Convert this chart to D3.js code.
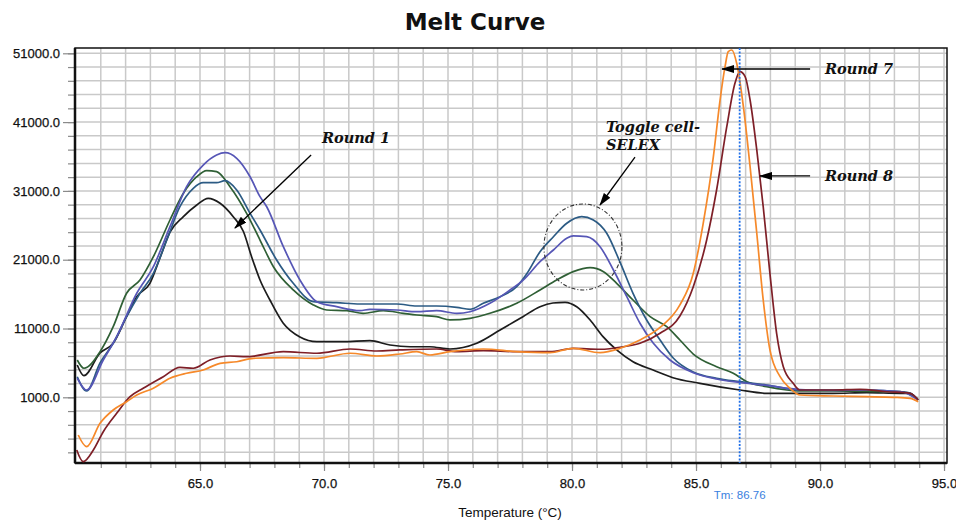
<!DOCTYPE html>
<html>
<head>
<meta charset="utf-8">
<script src="https://cdn.jsdelivr.net/npm/d3@7"></script>
<style>
  body { margin: 0; background: #fff; }
  svg { display: block; font-family: "Liberation Sans", Arial, sans-serif; }
</style>
</head>
<body>
<div id="okvir"></div>
<script>
// ---- data ----
const xLabels = [65, 70, 75, 80, 85, 90, 95]
const yLabels = [1000, 11000, 21000, 31000, 41000, 51000]
const tm = 86.76

const round1Temp = [60.05, 60.32, 60.97, 61.5, 62.04, 62.45, 62.98, 63.39, 63.79, 64.33, 64.87, 65.33, 65.81, 66.34, 66.75, 67.08, 67.42, 67.82, 68.35, 69.03, 69.71, 70.77, 71.85, 72.66, 73.47, 74.27, 75.08, 76.16, 77.1, 78.02, 78.71, 79.23, 79.72, 80.19, 80.73, 81.25, 81.8, 82.46, 83.27, 84.07, 85.16, 86.77, 87.85, 89.19, 90.52, 91.88, 93.23, 93.63, 93.95]
const round1Val = [5700, 4140, 7440, 8850, 12720, 15620, 17570, 21300, 25000, 27250, 28950, 29920, 29200, 27250, 25100, 21440, 18050, 15140, 11800, 9760, 9080, 9080, 9230, 8600, 8350, 8350, 8020, 8850, 10780, 12720, 14170, 14710, 14810, 14170, 12240, 9810, 7880, 6170, 4970, 3850, 3030, 2060, 1580, 1580, 1580, 1670, 1580, 1580, 610]

const greenTemp = [60.05, 60.32, 60.97, 61.5, 62.04, 62.58, 63.12, 63.79, 64.33, 64.87, 65.27, 65.67, 66.21, 66.88, 67.42, 67.96, 68.76, 69.57, 70.11, 70.92, 71.58, 72.39, 73.2, 73.74, 74.54, 75.08, 75.89, 76.69, 77.77, 78.71, 79.38, 80.05, 80.73, 81.27, 81.8, 82.46, 83.15, 83.82, 84.35, 84.89, 85.83, 86.5, 87.05, 87.85, 88.66, 89.19, 90.52, 91.88, 93.23, 93.95]
const greenVal = [6420, 5220, 7630, 11260, 16120, 18050, 21440, 26770, 30650, 33060, 33940, 33790, 31610, 27740, 23860, 19980, 16600, 14420, 13690, 13590, 13210, 13590, 13210, 12960, 12720, 12240, 12480, 13210, 14660, 16600, 18050, 19260, 19840, 19260, 17570, 15140, 12720, 11260, 9330, 7290, 5450, 4490, 3270, 2540, 2060, 1920, 1920, 1840, 1810, 750]

const steelTemp = [60.05, 60.43, 60.97, 61.5, 62.04, 62.58, 63.12, 63.66, 64.19, 64.73, 65.13, 65.67, 66.01, 66.48, 67.02, 67.42, 68.09, 68.76, 69.57, 70.51, 71.45, 72.39, 72.93, 73.74, 74.54, 75.35, 75.89, 76.42, 77.1, 77.77, 78.17, 78.71, 79.25, 79.79, 80.39, 80.86, 81.4, 81.94, 82.46, 83.01, 83.55, 84.08, 84.89, 85.83, 86.77, 87.85, 89.19, 90.52, 91.88, 93.23, 93.63, 93.95]
const steelVal = [3990, 1920, 5990, 8850, 12720, 16120, 19020, 23860, 28700, 31380, 32190, 32190, 32480, 31130, 27740, 25320, 20960, 17570, 14900, 14750, 14560, 14560, 14560, 14270, 14270, 14080, 13790, 14660, 15620, 17080, 18920, 22160, 24340, 26290, 27250, 26770, 24840, 20600, 16120, 12240, 9330, 6710, 4680, 3760, 3270, 2790, 2060, 2060, 2060, 1810, 1630, 610]

const purpleTemp = [60.05, 60.43, 61.1, 61.64, 62.45, 63.12, 63.79, 64.46, 65.13, 65.67, 66.01, 66.48, 67.02, 67.42, 67.69, 68.36, 69.03, 69.71, 70.51, 71.45, 71.85, 72.93, 73.74, 74.54, 75.35, 75.89, 76.69, 77.5, 78.04, 78.71, 79.25, 79.79, 80.05, 80.59, 81.13, 81.67, 82.21, 82.74, 83.28, 83.95, 84.89, 85.83, 86.77, 87.85, 89.19, 90.52, 91.88, 93.23, 93.95]
const purpleVal = [3800, 2060, 6420, 9810, 16120, 19980, 25800, 31610, 34760, 36220, 36550, 35740, 33060, 30160, 28700, 22890, 18050, 14900, 14170, 13590, 13790, 13690, 13440, 13590, 13210, 13440, 14660, 16600, 18050, 20710, 22410, 24110, 24450, 24340, 22890, 19500, 15620, 11760, 8850, 6420, 4580, 3660, 3150, 2720, 2130, 1990, 2060, 1840, 610]

const round7Temp = [60.09, 60.43, 60.97, 61.5, 62.04, 62.45, 63.12, 63.79, 64.46, 65.13, 65.81, 66.48, 67.15, 68.36, 69.71, 71.05, 72.13, 73.06, 73.74, 74.27, 75.08, 76.42, 77.77, 79.11, 80.05, 81.13, 81.94, 82.74, 83.55, 84.35, 84.89, 85.29, 85.7, 85.97, 86.17, 86.3, 86.44, 86.64, 86.91, 87.18, 87.45, 87.71, 87.98, 88.39, 88.79, 89.19, 90.54, 91.88, 92.95, 93.63, 93.96]
const round7Val = [-4480, -6180, -2780, -850, 360, 1330, 2310, 3760, 4490, 4970, 5940, 6170, 6670, 6760, 6670, 7400, 7000, 7290, 7630, 7150, 7630, 8020, 7630, 7480, 8120, 7480, 8120, 9330, 11150, 14420, 19020, 26290, 35970, 44210, 49050, 51230, 51480, 49550, 43240, 34520, 24840, 15140, 7880, 3990, 2310, 1330, 1190, 1090, 1000, 850, 360]

const round8Temp = [60.03, 60.29, 60.7, 61.1, 61.64, 62.18, 62.71, 63.52, 64.19, 64.73, 65.4, 66.21, 66.88, 68.36, 69.71, 71.05, 72.13, 73.06, 74.54, 75.35, 76.42, 77.77, 79.11, 80.05, 81.13, 82.07, 82.74, 83.55, 84.35, 84.89, 85.43, 85.83, 86.24, 86.57, 86.77, 86.98, 87.18, 87.45, 87.71, 87.98, 88.25, 88.52, 88.92, 89.19, 90.54, 91.61, 92.69, 93.63, 93.96]
const round8Val = [-6660, -8360, -6660, -4000, -1330, 1090, 2310, 3990, 5360, 5220, 6420, 7000, 6900, 7630, 7400, 8020, 7730, 7880, 8020, 7630, 7770, 7630, 7630, 8120, 7980, 8350, 8850, 10300, 12810, 17080, 23860, 31130, 40330, 46640, 48330, 47600, 44210, 36950, 28700, 19020, 10300, 5450, 3030, 2060, 2060, 2160, 1810, 1580, 610]

const serije = [
  { temp: round1Temp, val: round1Val, boja: "#1c1c1c" },
  { temp: greenTemp, val: greenVal, boja: "#2f5f35" },
  { temp: steelTemp, val: steelVal, boja: "#2c5b84" },
  { temp: purpleTemp, val: purpleVal, boja: "#5656b6" },
  { temp: round8Temp, val: round8Val, boja: "#7e1f27" },
  { temp: round7Temp, val: round7Val, boja: "#f6892a" },
]

// ---- layout ----
const dimenzije = {
  sirina: 956,
  visina: 520,
  margine: { top: 48, right: 9, bottom: 57, left: 75 },
}
dimenzije.grSirina = dimenzije.sirina - dimenzije.margine.left - dimenzije.margine.right
dimenzije.grVisina = dimenzije.visina - dimenzije.margine.top - dimenzije.margine.bottom

const xSkala = d3.scaleLinear().domain([59.96, 95.12]).range([0, dimenzije.grSirina])
const ySkala = d3.scaleLinear().domain([-8550, 51770]).range([dimenzije.grVisina, 0])

const okvir = d3.select("#okvir").append("svg")
  .attr("width", dimenzije.sirina)
  .attr("height", dimenzije.visina)

okvir.append("text")
  .attr("x", 475).attr("y", 30)
  .attr("text-anchor", "middle")
  .style("font-family", "'DejaVu Sans', sans-serif")
  .style("font-weight", "bold")
  .style("font-size", "23px")
  .attr("fill", "#111")
  .text("Melt Curve")

const granice = okvir.append("g")
  .attr("transform", `translate(${dimenzije.margine.left},${dimenzije.margine.top})`)

// grid
const xMinor = d3.range(61, 96)
const yMinor = d3.range(-7000, 51001, 2000)

granice.append("g").selectAll("line").data(xMinor).join("line")
  .attr("x1", d => xSkala(d)).attr("x2", d => xSkala(d))
  .attr("y1", 0).attr("y2", dimenzije.grVisina)
  .attr("stroke", "#c9c9c9").attr("stroke-width", 1.5)

granice.append("g").selectAll("line").data(yMinor).join("line")
  .attr("x1", 0).attr("x2", dimenzije.grSirina)
  .attr("y1", d => ySkala(d)).attr("y2", d => ySkala(d))
  .attr("stroke", "#c9c9c9").attr("stroke-width", 1.5)

// axes
const fmt = d3.format(".1f")

const yMinorAxis = granice.append("g")
  .call(d3.axisLeft(ySkala).tickValues(yMinor).tickSize(7).tickFormat(""))
const yAxis = granice.append("g")
  .call(d3.axisLeft(ySkala).tickValues(yLabels).tickSize(12).tickPadding(3).tickFormat(fmt))

const xMinorAxis = granice.append("g")
  .attr("transform", `translate(0,${dimenzije.grVisina})`)
  .call(d3.axisBottom(xSkala).tickValues(xMinor).tickSize(5).tickFormat(""))
const xAxis = granice.append("g")
  .attr("transform", `translate(0,${dimenzije.grVisina})`)
  .call(d3.axisBottom(xSkala).tickValues(xLabels).tickSize(8).tickPadding(8).tickFormat(fmt))

;[yMinorAxis, yAxis, xMinorAxis, xAxis].forEach(a => {
  a.select(".domain").remove()
  a.selectAll(".tick line").attr("stroke", "#8a8a8a").attr("stroke-width", 1.2)
  a.selectAll(".tick text")
    .attr("fill", "#111")
    .attr("stroke", "#111").attr("stroke-width", 0.25)
    .style("font-size", "13px")
    .style("font-family", "'Liberation Sans', Arial, sans-serif")
})

// frame
granice.append("rect")
  .attr("width", dimenzije.grSirina).attr("height", dimenzije.grVisina)
  .attr("fill", "none").attr("stroke", "#111").attr("stroke-width", 1.5)
granice.append("line")
  .attr("x1", 0).attr("x2", 0).attr("y1", 0).attr("y2", dimenzije.grVisina)
  .attr("stroke", "#111").attr("stroke-width", 2.5)
granice.append("line")
  .attr("x1", 0).attr("x2", dimenzije.grSirina).attr("y1", dimenzije.grVisina).attr("y2", dimenzije.grVisina)
  .attr("stroke", "#111").attr("stroke-width", 2.5)

// curves
const linija = d3.line()
  .x(d => xSkala(d[0]))
  .y(d => ySkala(d[1]))
  .curve(d3.curveMonotoneX)

granice.append("g").selectAll("path").data(serije).join("path")
  .attr("d", s => linija(d3.zip(s.temp, s.val)))
  .attr("fill", "none")
  .attr("stroke", s => s.boja)
  .attr("stroke-width", 1.7)
  .attr("stroke-linejoin", "round")

// Tm marker
granice.append("line")
  .attr("x1", xSkala(tm)).attr("x2", xSkala(tm))
  .attr("y1", 0).attr("y2", dimenzije.grVisina)
  .attr("stroke", "#1f6fe8").attr("stroke-width", 1.8)
  .attr("stroke-dasharray", "2,1.6")

granice.append("text")
  .attr("x", xSkala(tm)).attr("y", dimenzije.grVisina + 36)
  .attr("text-anchor", "middle")
  .attr("fill", "#3a7fe0")
  .style("font-size", "11.5px")
  .text(`Tm: ${tm}`)

okvir.append("text")
  .attr("x", 510).attr("y", 517)
  .attr("text-anchor", "middle")
  .attr("fill", "#111")
  .style("font-size", "13.5px")
  .text("Temperature (°C)")

// annotations
const defs = okvir.append("defs")
defs.append("marker")
  .attr("id", "strelica")
  .attr("viewBox", "0 0 13 8")
  .attr("markerUnits", "userSpaceOnUse")
  .attr("markerWidth", 13).attr("markerHeight", 8)
  .attr("refX", 12).attr("refY", 4)
  .attr("orient", "auto")
  .append("path").attr("d", "M0,0L13,4L0,8Z").attr("fill", "#000")

const strelice = [
  { od: [69.48, 36220], do: [66.41, 25610] },
  { od: [82.54, 35920], do: [81.13, 28950] },
  { od: [89.6, 48720], do: [86.05, 48720] },
  { od: [89.6, 33170], do: [87.58, 33170] },
]

granice.append("g").selectAll("line").data(strelice).join("line")
  .attr("x1", d => xSkala(d.od[0])).attr("y1", d => ySkala(d.od[1]))
  .attr("x2", d => xSkala(d.do[0])).attr("y2", d => ySkala(d.do[1]))
  .attr("stroke", "#000").attr("stroke-width", 1.3)
  .attr("marker-end", "url(#strelica)")

granice.append("ellipse")
  .attr("cx", xSkala(80.44)).attr("cy", ySkala(22850))
  .attr("rx", 39).attr("ry", 43)
  .attr("fill", "none").attr("stroke", "#333").attr("stroke-width", 1.1)
  .attr("stroke-dasharray", "4,2,1,2")

const natpisi = [
  { t: 69.92, v: 37950, tekst: "Round 1" },
  { t: 81.37, v: 39560, tekst: "Toggle cell-" },
  { t: 81.37, v: 36950, tekst: "SELEX" },
  { t: 90.2, v: 47990, tekst: "Round 7" },
  { t: 90.2, v: 32440, tekst: "Round 8" },
]

granice.append("g").selectAll("text").data(natpisi).join("text")
  .attr("x", d => xSkala(d.t)).attr("y", d => ySkala(d.v))
  .style("font-family", "'DejaVu Serif', serif")
  .style("font-weight", "bold")
  .style("font-style", "italic")
  .style("font-size", "14.5px")
  .attr("fill", "#111")
  .text(d => d.tekst)
</script>
</body>
</html>
